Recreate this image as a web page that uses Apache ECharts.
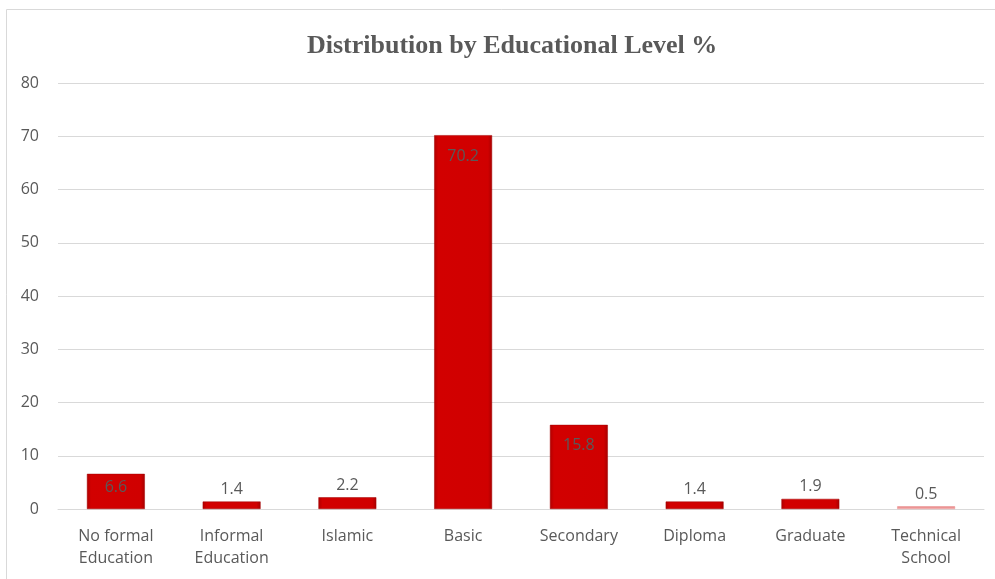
<!DOCTYPE html>
<html>
<head>
<meta charset="utf-8">
<script src="https://cdn.jsdelivr.net/npm/echarts@6/dist/echarts.min.js"></script>
<style>html,body{margin:0;padding:0;background:#fff}#c{width:995px;height:579px}</style>
</head>
<body>
<div id="c"></div>
<script>
const categories = ['No formal\nEducation', 'Informal\nEducation', 'Islamic', 'Basic', 'Secondary', 'Diploma', 'Graduate', 'Technical\nSchool'];
const values = [6.6, 1.4, 2.2, 70.2, 15.8, 1.4, 1.9, 0.5];
const yTicks = [0, 10, 20, 30, 40, 50, 60, 70, 80];
const titleText = 'Distribution by Educational Level %';

const chart = echarts.init(document.getElementById('c'), null, {renderer: 'canvas'});
const redFill = new echarts.graphic.LinearGradient(0, 0, 1, 0, [
  {offset: 0, color: '#b00000'},
  {offset: 0.07, color: '#d20000'},
  {offset: 0.93, color: '#d00000'},
  {offset: 1, color: '#a80000'}
]);
const lightFill = new echarts.graphic.LinearGradient(0, 0, 0, 1, [
  {offset: 0, color: '#e88080'},
  {offset: 1, color: '#f4b0b0'}
]);
const seriesData = values.map(v => ({
  value: v,
  itemStyle: {color: v < 1 ? lightFill : redFill, borderColor: v < 1 ? '#e89090' : '#a00000', borderWidth: 0.5},
  label: {position: v > 5 ? 'insideTop' : 'top', distance: v > 5 ? (v > 10 ? 13 : 6) : 4}
}));

chart.setOption({
  animation: false,
  title: {
    text: titleText, left: 302, top: 28,
    textStyle: {fontFamily: 'Liberation Serif', fontWeight: 'bold', fontSize: 26, color: '#595959'}
  },
  graphic: [{
    type: 'rect', shape: {x: 6.5, y: 9.5, width: 1000, height: 600},
    style: {fill: 'none', stroke: '#d9d9d9', lineWidth: 1}, silent: true, z: -1
  }],
  grid: {left: 58, right: 11, top: 83, bottom: 70, containLabel: false},
  xAxis: {
    type: 'category', data: categories,
    axisLine: {lineStyle: {color: '#d9d9d9'}},
    axisTick: {show: false},
    axisLabel: {color: '#595959', fontFamily: 'Open Sans', fontSize: 16, margin: 16, lineHeight: 22, interval: 0}
  },
  yAxis: {
    type: 'value', min: yTicks[0], max: yTicks[yTicks.length - 1], interval: 10,
    axisLine: {show: false}, axisTick: {show: false},
    splitLine: {lineStyle: {color: '#d9d9d9'}},
    axisLabel: {color: '#595959', fontFamily: 'Open Sans', fontSize: 16, margin: 19}
  },
  series: [{
    type: 'bar', data: seriesData, barWidth: '50%',
    label: {show: true, color: '#595959', fontFamily: 'Open Sans', fontSize: 16}
  }]
});
</script>
</body>
</html>
